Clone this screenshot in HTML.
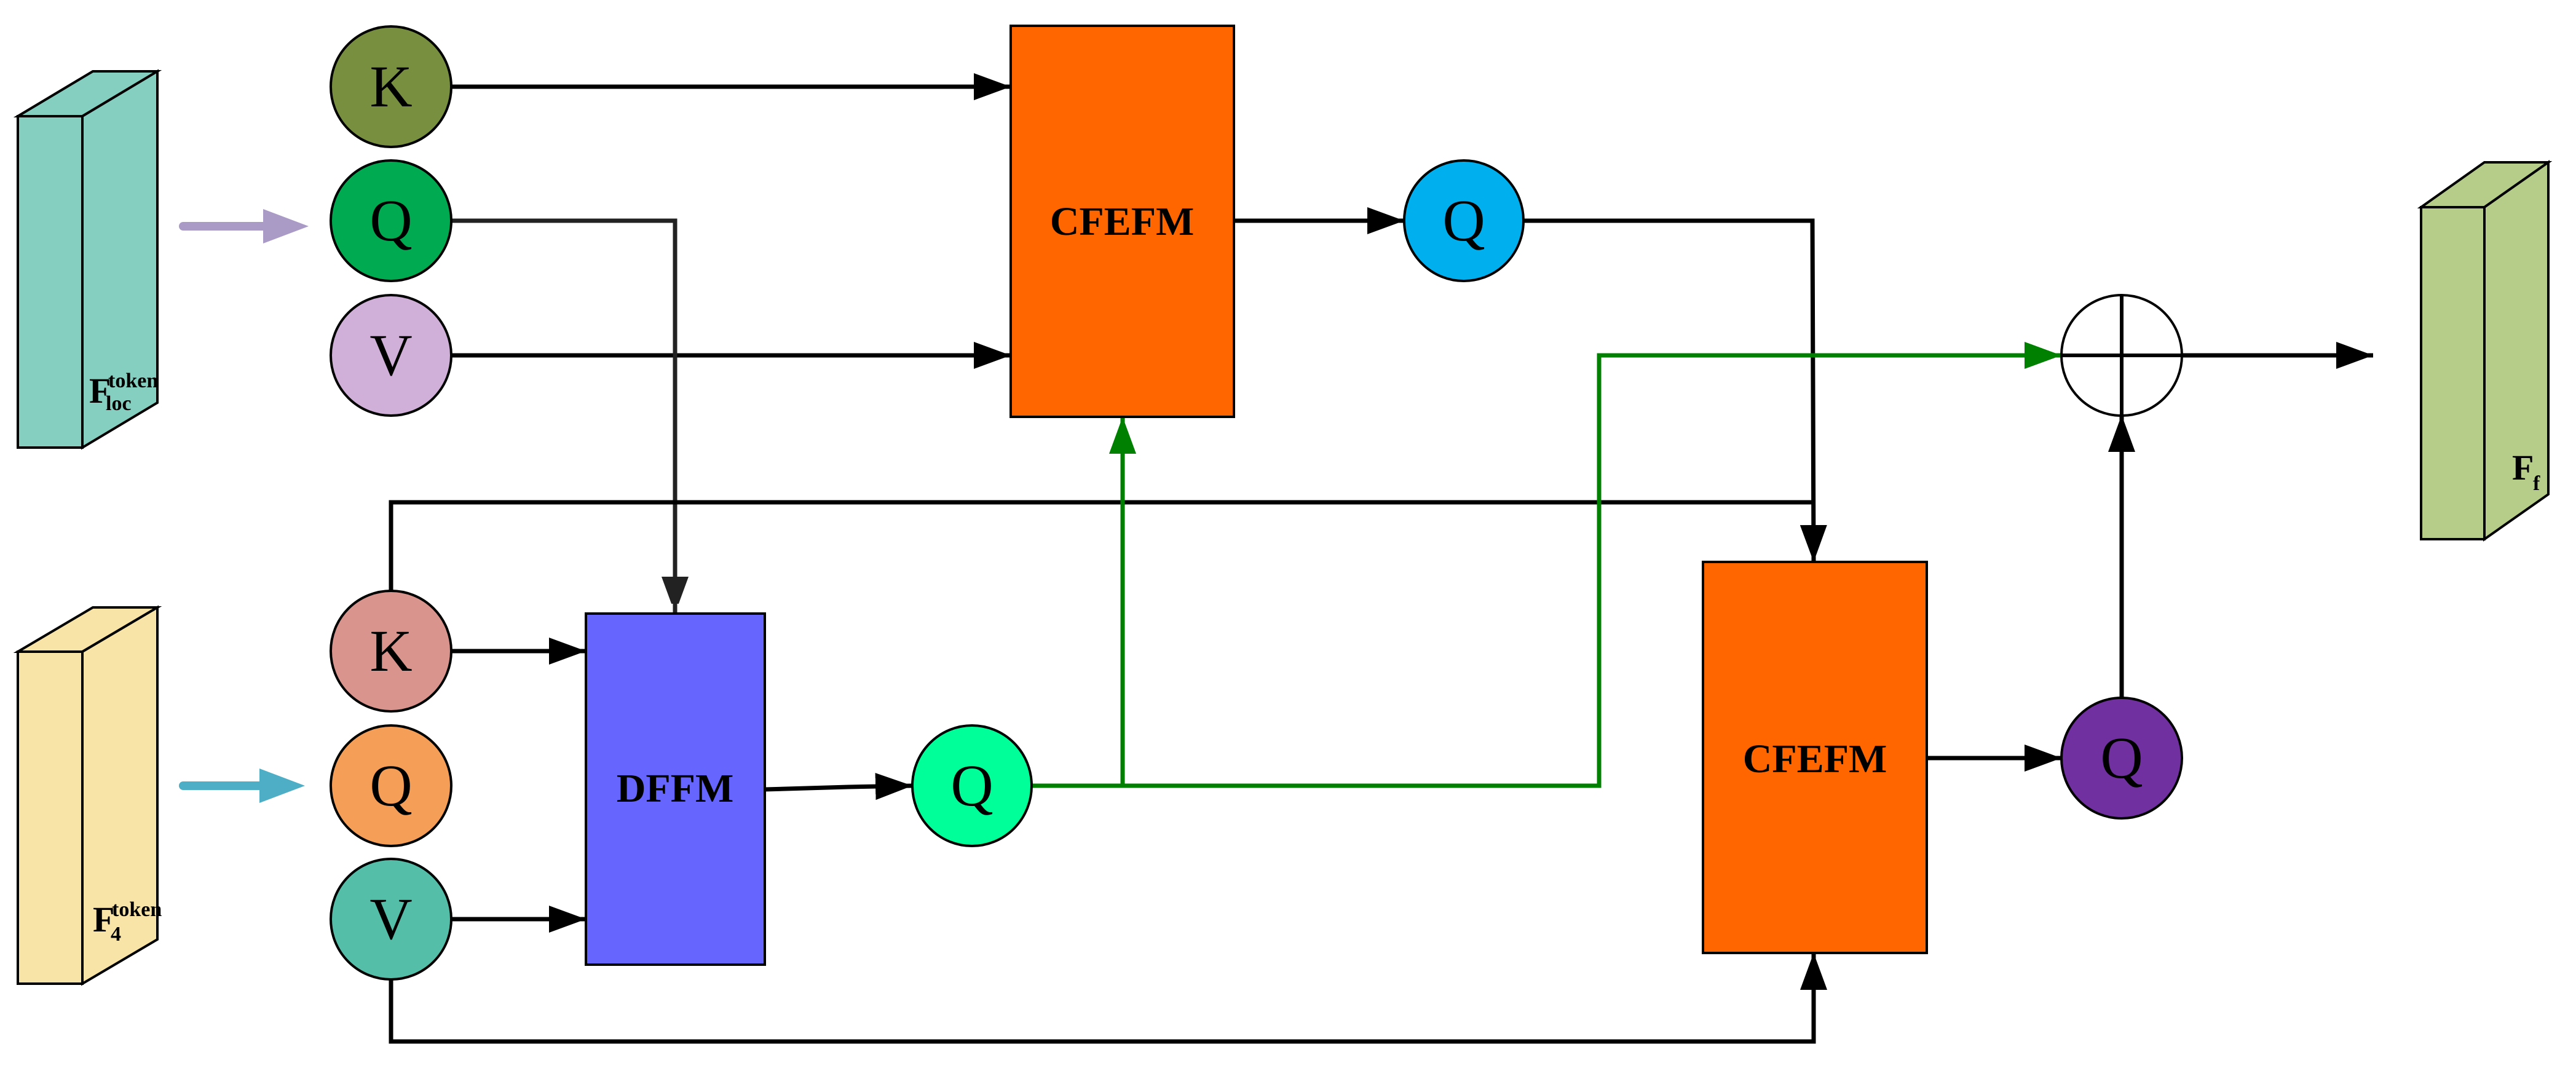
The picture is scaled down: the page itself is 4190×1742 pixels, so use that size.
<!DOCTYPE html>
<html><head><meta charset="utf-8"><style>html,body{margin:0;padding:0;background:#fff}svg{display:block}</style></head>
<body>
<svg width="4190" height="1742" viewBox="0 0 4190 1742" xmlns="http://www.w3.org/2000/svg" font-family="'Liberation Serif', serif">
<defs>
<marker id="ab" markerWidth="60" markerHeight="44" refX="60" refY="22" orient="auto" markerUnits="userSpaceOnUse"><path d="M0,0 L60,22 L0,44 Z" fill="#000"/></marker>
<marker id="ag" markerWidth="60" markerHeight="44" refX="60" refY="22" orient="auto" markerUnits="userSpaceOnUse"><path d="M0,0 L60,22 L0,44 Z" fill="#008000"/></marker>
<marker id="ad" markerWidth="44" markerHeight="60" refX="60" refY="22" orient="auto" markerUnits="userSpaceOnUse"><path d="M0,0 L60,22 L0,44 Z" fill="#222"/></marker>
</defs>
<g stroke="#000" stroke-width="4">
<!-- Floc box -->
<polygon points="29,189 151,116 256,116 134,189" fill="#85cfc0"/>
<polygon points="134,189 256,116 256,655 134,728" fill="#85cfc0"/>
<rect x="29" y="189" width="105" height="539" fill="#85cfc0"/>
<!-- F4 box -->
<polygon points="29,1060 151,988 256,988 134,1060" fill="#f8e4a6"/>
<polygon points="134,1060 256,988 256,1528 134,1600" fill="#f8e4a6"/>
<rect x="29" y="1060" width="105" height="540" fill="#f8e4a6"/>
<!-- Ff box -->
<polygon points="3938,337 4041,264 4145,264 4041,337" fill="#b6cd8a"/>
<polygon points="4041,337 4145,264 4145,804 4041,877" fill="#b6cd8a"/>
<rect x="3938" y="337" width="103" height="540" fill="#b6cd8a"/>
</g>
<g font-weight="bold" fill="#000">
<text x="145" y="655" font-size="58">F</text><text x="176" y="630" font-size="34">token</text><text x="172" y="667" font-size="34">loc</text>
<text x="151" y="1515" font-size="58">F</text><text x="182" y="1490" font-size="34">token</text><text x="180" y="1530" font-size="34">4</text>
<text x="4086" y="780" font-size="58">F</text><text x="4120" y="797" font-size="34">f</text>
</g>
<!-- input arrows -->
<line x1="298" y1="368" x2="440" y2="368" stroke="#a99ac6" stroke-width="14" stroke-linecap="round"/>
<path d="M428,340 L502,368 L428,396 Z" fill="#a99ac6"/>
<line x1="298" y1="1278" x2="430" y2="1278" stroke="#4eaec6" stroke-width="14" stroke-linecap="round"/>
<path d="M422,1250 L496,1278 L422,1306 Z" fill="#4eaec6"/>
<!-- connectors -->
<g fill="none" stroke-width="7">
<line x1="734" y1="141" x2="1644" y2="141" stroke="#000" marker-end="url(#ab)"/>
<line x1="734" y1="578" x2="1644" y2="578" stroke="#000" marker-end="url(#ab)"/>
<polyline points="734,359 1098,359 1098,998" stroke="#222" marker-end="url(#ad)"/>
<polyline points="636,961 636,817 2948,817" stroke="#000"/>
<line x1="2007" y1="359" x2="2284" y2="359" stroke="#000" marker-end="url(#ab)"/>
<polyline points="2478,359 2948,359 2950,914" stroke="#000" marker-end="url(#ab)"/>
<line x1="734" y1="1059" x2="953" y2="1059" stroke="#000" marker-end="url(#ab)"/>
<line x1="734" y1="1495" x2="953" y2="1495" stroke="#000" marker-end="url(#ab)"/>
<polyline points="1244,1284 1380,1280 1484,1278" stroke="#000" marker-end="url(#ab)"/>
<polyline points="636,1594 636,1694 2950,1694 2950,1550" stroke="#000" marker-end="url(#ab)"/>
<polyline points="1678,1278 2601,1278 2601,578 3353,578" stroke="#008000" marker-end="url(#ag)"/>
<line x1="1826" y1="1278" x2="1826" y2="678" stroke="#008000" marker-end="url(#ag)"/>
<line x1="3134" y1="1233" x2="3353" y2="1233" stroke="#000" marker-end="url(#ab)"/>
<line x1="3451" y1="1135" x2="3451" y2="675" stroke="#000" marker-end="url(#ab)"/>
<line x1="3550" y1="578" x2="3860" y2="578" stroke="#000" marker-end="url(#ab)"/>
</g>
<!-- boxes -->
<rect x="1644" y="42" width="363" height="636" fill="#ff6600" stroke="#000" stroke-width="4"/>
<rect x="953" y="998" width="291" height="571" fill="#6666ff" stroke="#000" stroke-width="4"/>
<rect x="2770" y="914" width="364" height="636" fill="#ff6600" stroke="#000" stroke-width="4"/>
<g font-weight="bold" font-size="66" text-anchor="middle" fill="#000">
<text x="1825" y="382">CFEFM</text>
<text x="1098" y="1304">DFFM</text>
<text x="2952" y="1256">CFEFM</text>
</g>
<!-- circles -->
<g stroke="#000" stroke-width="4">
<ellipse cx="636" cy="141" rx="98" ry="98" fill="#788f40"/>
<ellipse cx="636" cy="359" rx="98" ry="98" fill="#00aa50"/>
<ellipse cx="636" cy="578" rx="98" ry="98" fill="#d0b0d8"/>
<ellipse cx="636" cy="1059" rx="98" ry="98" fill="#d9948e"/>
<ellipse cx="636" cy="1278" rx="98" ry="98" fill="#f49e58"/>
<ellipse cx="636" cy="1495" rx="98" ry="98" fill="#55bea8"/>
<ellipse cx="1581" cy="1278" rx="97" ry="98" fill="#00ff99"/>
<ellipse cx="2381" cy="359" rx="97" ry="98" fill="#00b0ee"/>
<ellipse cx="3451" cy="1233" rx="98" ry="98" fill="#7030a0"/>
<ellipse cx="3451" cy="578" rx="98" ry="98" fill="#fff"/>
</g>
<g stroke="#000" stroke-width="6">
<line x1="3353" y1="578" x2="3550" y2="578"/><line x1="3451" y1="480" x2="3451" y2="676"/>
</g>
<g font-size="96" text-anchor="middle" fill="#000">
<text x="636" y="173">K</text><text x="636" y="391">Q</text><text x="636" y="610">V</text>
<text x="636" y="1091">K</text><text x="636" y="1310">Q</text><text x="636" y="1527">V</text>
<text x="1581" y="1310">Q</text><text x="2381" y="391">Q</text><text x="3451" y="1265">Q</text>
</g>
</svg>
</body></html>
